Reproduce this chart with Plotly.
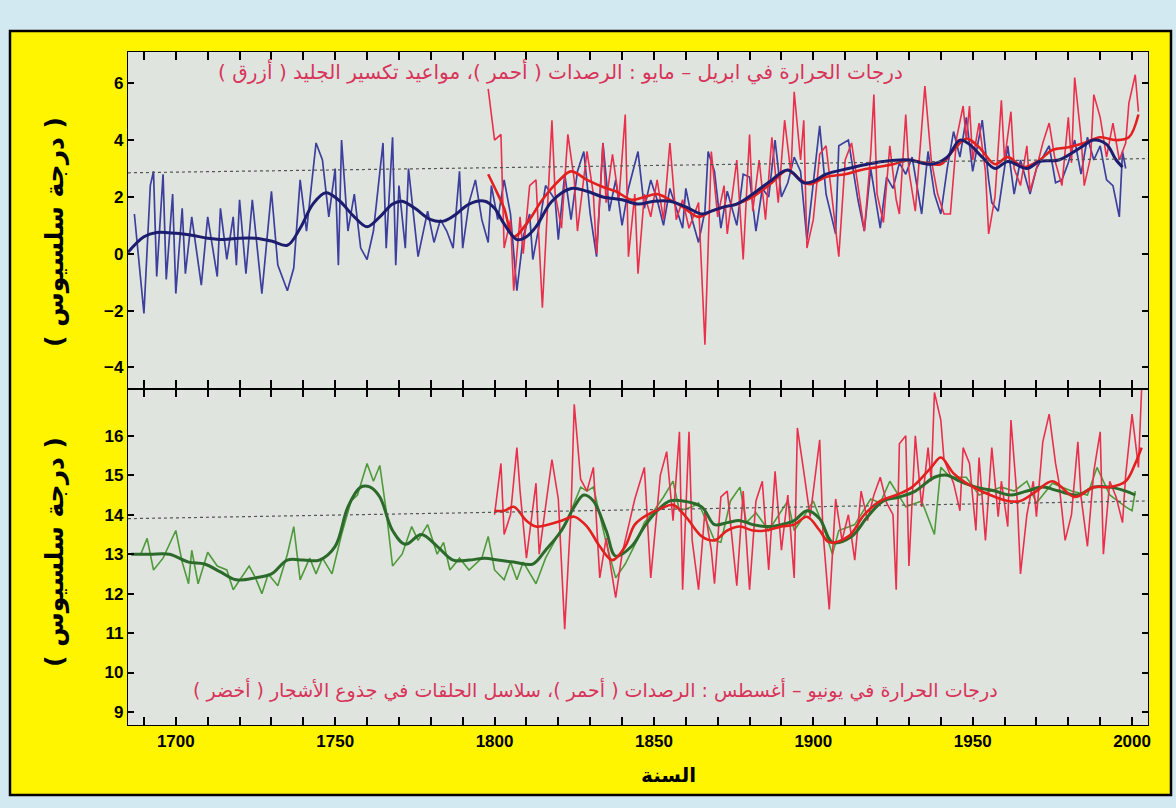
import plotly.graph_objects as go

# ---------------- DATA ----------------
# Top panel: April-May temperature (deg C)
blue_raw_years = [1687,1690,1692,1693,1694,1696,1697,1699,1700,1702,1703,1705,1708,1710,1713,1714,1716,1718,1719,1720,
                  1722,1724,1727,1730,1732,1735,1737,1739,1741,1744,1746,1748,1750,1751,1752,1754,1756,1758,1760,1762,
                  1765,1766,1768,1769,1770,1772,1773,1775,1776,1779,1781,1783,1785,1787,1789,1790,1792,1794,1796,1798,
                  1799,1801,1803,1805,1807,1809,1811,1812,1814,1816,1819,1820,1822,1824,1826,1828,1830,1832,1834,1836,
                  1838,1840,1842,1845,1847,1849,1851,1853,1855,1857,1859,1860,1862,1864,1866,1867,1869,1871,1873,1876,
                  1878,1880,1882,1884,1886,1888,1890,1892,1894,1896,1898,1902,1904,1907,1908,1911,1914,1916,1918,1921,
                  1923,1925,1927,1929,1931,1934,1936,1938,1940,1942,1944,1946,1948,1950,1953,1955,1956,1958,1961,1963,
                  1965,1967,1968,1970,1971,1974,1976,1978,1980,1982,1984,1986,1988,1990,1992,1994,1996,1997,1998]
blue_raw_vals = [1.4,-2.1,2.4,2.9,-0.8,2.8,-0.9,2.1,-1.4,1.6,-0.7,1.3,-1.1,1.3,-0.8,1.6,-0.2,1.3,-0.4,1.9,
                 -0.7,1.9,-1.4,2.2,-0.4,-1.3,-0.5,2.6,0.8,3.9,3.3,1.3,3.0,-0.4,4.0,0.8,2.1,0.2,-0.2,0.8,
                 3.9,0.2,4.1,-0.4,2.4,0.2,3.0,0.8,-0.1,1.5,0.4,1.2,0.8,0.2,2.9,0.2,1.8,2.6,1.2,0.4,
                 2.4,1.2,2.6,1.4,-1.3,0.6,1.4,-0.2,1.0,2.4,1.9,0.5,2.8,1.2,2.9,3.6,1.4,-0.1,3.9,1.5,
                 2.6,1.0,2.3,3.6,1.6,2.6,1.9,1.0,2.3,1.6,0.9,2.3,1.2,0.4,1.5,3.6,2.9,0.9,2.2,1.0,
                 2.8,2.7,0.8,2.3,2.0,4.0,2.0,2.5,3.4,2.9,0.5,4.5,2.1,0.7,3.8,4.0,1.9,0.8,3.0,0.9,
                 2.7,2.3,3.2,2.8,3.4,1.4,3.6,2.1,1.4,3.0,4.3,3.4,4.8,2.9,4.7,2.6,1.8,1.5,3.8,2.1,
                 3.3,2.5,2.1,3.0,3.2,3.8,2.5,2.6,3.2,4.0,2.8,4.1,3.3,3.8,2.6,2.4,1.3,3.6,3.0]

blue_smooth_years = [1685,1690,1694,1700,1705,1710,1715,1720,1725,1730,1735,1739,1743,1747,1751,1756,1760,1764,1768,1771,
                     1775,1780,1784,1788,1792,1797,1800,1803,1807,1810,1813,1818,1824,1829,1834,1840,1845,1850,1855,1860,
                     1865,1868,1872,1876,1881,1887,1892,1897,1900,1904,1911,1917,1922,1930,1937,1942,1946,1949,1953,1957,
                     1961,1967,1971,1977,1984,1988,1992,1995,1997]
blue_smooth_vals = [0.05,0.6,0.75,0.72,0.65,0.55,0.5,0.55,0.55,0.45,0.3,0.9,1.75,2.15,1.9,1.3,0.95,1.3,1.75,1.85,
                    1.6,1.2,1.15,1.4,1.75,1.85,1.6,1.05,0.5,0.6,0.95,1.85,2.3,2.2,2.0,1.9,1.75,1.85,1.85,1.65,
                    1.4,1.5,1.65,1.75,2.1,2.6,2.95,2.5,2.55,2.8,3.0,3.15,3.25,3.3,3.15,3.4,4.0,3.85,3.4,3.0,
                    3.25,3.0,3.25,3.3,3.75,4.0,3.85,3.3,3.05]

red_top_years = [1798,1800,1802,1803,1805,1806,1808,1809,1811,1813,1815,1818,1819,1821,1823,1825,1826,1829,1831,1832,
                 1834,1835,1837,1839,1841,1842,1844,1845,1847,1849,1851,1853,1855,1857,1859,1861,1864,1866,1868,1870,
                 1872,1873,1876,1878,1880,1881,1883,1885,1887,1889,1891,1893,1894,1896,1897,1898,1900,1902,1904,1906,
                 1908,1910,1912,1914,1916,1918,1919,1920,1922,1924,1926,1927,1929,1930,1932,1935,1937,1939,1941,1943,
                 1945,1947,1948,1949,1950,1952,1954,1955,1957,1959,1960,1962,1963,1965,1967,1968,1970,1972,1974,1976,
                 1978,1980,1981,1982,1984,1985,1987,1988,1990,1992,1994,1996,1998,1999,2001,2002]
red_top_vals = [5.8,4.0,4.2,0.2,1.2,-1.3,1.3,0.0,2.4,2.6,-1.9,4.7,2.1,0.9,4.2,2.6,0.8,3.6,2.1,0.0,
                3.9,1.8,3.5,1.9,4.9,-0.1,2.1,-0.7,2.1,1.3,2.6,1.2,3.9,1.2,1.9,0.9,1.8,-3.2,3.6,1.3,
                2.4,0.7,3.3,-0.2,4.2,1.5,3.3,1.2,4.1,1.8,4.7,2.8,5.7,3.3,4.7,0.2,1.2,3.5,3.8,1.8,
                -0.1,3.3,3.9,2.4,0.8,3.5,5.6,2.1,1.1,3.8,1.9,1.4,4.9,2.9,1.5,5.9,3.3,2.1,1.4,1.4,
                4.1,5.2,4.0,5.2,3.3,4.6,2.9,0.7,2.0,5.4,3.3,5.0,3.0,2.4,3.8,2.2,3.0,3.9,4.6,3.2,
                2.4,4.8,3.2,6.2,4.1,2.4,3.4,5.6,4.8,3.4,4.6,3.3,3.9,5.3,6.3,5.0]

red_top_smooth_years = [1798,1801,1803,1806,1810,1815,1820,1824,1829,1834,1838,1843,1847,1851,1855,1859,1864,1868,1872,1876,
                        1881,1887,1892,1896,1899,1904,1910,1915,1920,1925,1930,1935,1940,1944,1948,1952,1957,1961,1966,1971,
                        1975,1980,1985,1990,1995,1999,2002]
red_top_smooth_vals = [2.8,2.1,1.6,0.6,1.05,1.9,2.55,2.9,2.6,2.35,2.2,1.9,2.0,2.1,1.9,1.65,1.3,1.5,1.65,1.75,
                       2.0,2.5,2.95,2.6,2.45,2.7,2.8,2.95,3.05,3.15,3.3,3.2,3.15,3.65,4.05,3.75,3.15,3.4,3.05,3.3,
                       3.65,3.75,3.9,4.1,4.0,4.1,4.9]

# Bottom panel: June-August temperature (deg C)
green_raw_years = [1689,1691,1693,1696,1700,1702,1704,1705,1707,1710,1713,1716,1718,1720,1723,1725,1727,1729,1732,1735,
                   1737,1739,1742,1744,1746,1749,1752,1755,1757,1760,1762,1764,1766,1768,1771,1774,1776,1779,1782,1784,
                   1786,1789,1792,1796,1798,1800,1803,1805,1807,1809,1813,1816,1820,1823,1827,1829,1831,1833,1835,1838,
                   1841,1845,1847,1850,1853,1856,1858,1862,1864,1869,1871,1874,1877,1879,1882,1886,1892,1894,1897,1900,
                   1904,1906,1908,1913,1918,1921,1924,1929,1934,1938,1940,1943,1948,1952,1959,1963,1967,1970,1975,1981,
                   1986,1989,1993,1998,2000,2001]
green_raw_vals = [13.0,13.4,12.6,12.9,13.6,12.8,12.25,13.1,12.25,13.05,12.7,12.6,12.1,12.35,12.7,12.4,12.0,12.5,12.2,13.0,
                  13.7,12.35,12.9,12.5,12.9,12.5,13.5,14.35,14.5,15.3,14.85,15.25,14.1,12.7,13.0,13.7,13.35,13.75,13.0,13.3,
                  12.6,12.9,12.6,12.9,13.45,12.6,12.35,12.8,12.35,12.8,12.25,12.9,13.5,13.9,14.7,14.6,14.7,14.0,13.3,12.4,
                  12.75,13.4,13.8,14.1,14.45,14.85,14.1,14.2,14.3,13.35,13.3,14.35,14.7,13.8,14.05,13.6,14.35,13.6,13.95,14.35,
                  13.5,13.0,13.6,13.75,14.4,14.3,14.85,14.2,14.35,13.5,15.2,14.95,14.95,14.5,14.7,14.6,14.85,14.3,14.8,14.6,
                  14.5,15.2,14.5,14.2,14.1,14.6]

green_smooth_years = [1686,1692,1698,1704,1709,1714,1719,1725,1730,1735,1740,1745,1750,1754,1758,1761,1764,1768,1772,1777,
                      1782,1787,1792,1797,1801,1806,1812,1816,1821,1825,1828,1831,1835,1838,1843,1847,1851,1855,1859,1865,
                      1869,1873,1877,1881,1886,1890,1894,1898,1902,1906,1912,1917,1922,1927,1932,1938,1942,1946,1951,1957,
                      1962,1967,1972,1977,1983,1988,1993,1998,2001]
green_smooth_vals = [13.0,13.0,13.0,12.8,12.75,12.55,12.35,12.4,12.5,12.85,12.85,12.85,13.2,14.2,14.7,14.7,14.45,13.6,13.25,13.5,
                     13.2,12.85,12.85,12.9,12.85,12.8,12.75,13.1,13.6,14.2,14.5,14.35,13.6,12.95,13.2,13.7,14.1,14.35,14.35,14.2,
                     13.75,13.8,13.85,13.75,13.7,13.75,13.85,14.1,13.9,13.3,13.45,13.95,14.35,14.45,14.6,14.95,15.0,14.85,14.7,14.6,
                     14.5,14.6,14.7,14.6,14.5,14.7,14.7,14.6,14.5]

red_bot_years = [1800,1802,1803,1805,1807,1808,1810,1813,1814,1818,1820,1822,1824,1825,1827,1829,1831,1833,1835,1838,
                 1840,1844,1847,1849,1852,1854,1856,1858,1859,1861,1862,1864,1866,1868,1869,1871,1873,1876,1878,1880,
                 1882,1884,1886,1888,1890,1892,1894,1895,1897,1899,1902,1903,1905,1907,1909,1911,1913,1915,1917,1919,
                 1921,1923,1925,1926,1927,1929,1930,1932,1934,1936,1937,1938,1940,1941,1944,1946,1947,1949,1951,1952,
                 1954,1956,1958,1959,1961,1962,1964,1965,1967,1969,1970,1972,1974,1976,1977,1979,1981,1983,1984,1986,
                 1988,1990,1991,1993,1995,1997,1998,2000,2002,2003]
red_bot_vals = [14.0,15.3,13.5,14.0,15.7,14.6,12.9,14.8,13.0,15.4,14.4,11.1,14.1,16.8,14.9,14.6,15.2,12.4,13.4,11.9,
                13.0,14.4,15.2,12.4,15.0,15.6,13.85,16.1,12.1,16.1,13.35,12.1,14.1,13.1,12.25,14.45,14.6,12.2,14.6,12.1,
                14.35,14.85,12.6,15.1,13.1,14.5,12.4,16.2,15.1,13.95,15.9,13.6,11.6,14.4,13.35,14.0,12.85,14.6,13.85,14.5,
                14.95,14.3,14.0,12.1,15.8,16.0,12.7,16.0,14.2,15.7,14.85,17.1,16.4,15.4,14.8,14.1,15.7,15.3,13.6,15.45,
                13.35,15.7,13.95,14.85,13.7,16.4,14.35,12.5,14.0,14.85,13.95,15.85,16.55,15.3,14.85,13.35,14.0,15.85,14.45,13.2,
                15.1,16.1,13.0,14.85,14.45,13.8,15.0,16.55,15.2,17.2]

red_bot_smooth_years = [1800,1803,1806,1810,1813,1817,1821,1825,1829,1833,1837,1841,1844,1848,1852,1856,1860,1865,1869,1873,
                        1877,1881,1885,1890,1894,1898,1902,1905,1911,1916,1921,1926,1931,1937,1940,1944,1948,1954,1961,1965,
                        1970,1975,1982,1988,1993,1998,2001,2003]
red_bot_smooth_vals = [14.1,14.1,14.2,13.85,13.7,13.75,13.85,13.95,13.7,13.2,12.85,13.2,13.75,14.0,14.15,14.25,13.95,13.45,13.35,13.6,
                       13.7,13.6,13.6,13.7,13.75,13.95,13.6,13.3,13.45,14.0,14.35,14.5,14.7,15.2,15.45,15.05,14.8,14.55,14.35,14.35,
                       14.6,14.85,14.45,14.7,14.7,14.85,15.3,15.7]

# dotted reference lines (as drawn, slightly tilted in the scan)
top_ref_years = [1685, 2005]
top_ref_vals = [2.85, 3.35]
bot_ref_years = [1685, 2005]
bot_ref_vals = [13.9, 14.35]

x_tick_vals = [1690, 1700, 1710, 1720, 1730, 1740, 1750, 1760, 1770, 1780, 1790, 1800, 1810, 1820, 1830, 1840,
               1850, 1860, 1870, 1880, 1890, 1900, 1910, 1920, 1930, 1940, 1950, 1960, 1970, 1980, 1990, 2000]
x_tick_text = ["", "1700", "", "", "", "", "1750", "", "", "", "", "1800", "", "", "", "",
               "1850", "", "", "", "", "1900", "", "", "", "", "1950", "", "", "", "", "2000"]
top_y_ticks = [-4, -2, 0, 2, 4, 6]
bot_y_ticks = [9, 10, 11, 12, 13, 14, 15, 16]

top_note = "درجات الحرارة في ابريل – مايو : الرصدات ( أحمر )، مواعيد تكسير الجليد ( أزرق )"
bot_note = "درجات الحرارة في يونيو – أغسطس : الرصدات ( أحمر )، سلاسل الحلقات في جذوع الأشجار ( أخضر )"
y_title = "( درجة سلسيوس )"
x_title = "السنة"

# ---------------- STYLE ----------------
W, H = 1176, 808
L, R, T, B = 128, 28, 52, 83
PW, PH = W - L - R, H - T - B

def px_x(p):
    return (p - L) / PW

def px_y(p):
    return (H - B - p) / PH

BLUE_RAW = "#3d3f9c"
BLUE_SM = "#1c1d6e"
RED_RAW = "#ea2f4c"
RED_SM = "#e3201f"
GREEN_RAW = "#4f9a3a"
GREEN_SM = "#2b6a2a"

fig = go.Figure()

# top panel (xaxis2 / yaxis2)
fig.add_trace(go.Scatter(x=blue_raw_years, y=blue_raw_vals, mode="lines",
                         line=dict(color=BLUE_RAW, width=1.7), xaxis="x2", yaxis="y2"))
fig.add_trace(go.Scatter(x=red_top_years, y=red_top_vals, mode="lines",
                         line=dict(color=RED_RAW, width=1.6), xaxis="x2", yaxis="y2"))
fig.add_trace(go.Scatter(x=red_top_smooth_years, y=red_top_smooth_vals, mode="lines", line_shape="spline",
                         line=dict(color=RED_SM, width=2.6), xaxis="x2", yaxis="y2"))
fig.add_trace(go.Scatter(x=blue_smooth_years, y=blue_smooth_vals, mode="lines", line_shape="spline",
                         line=dict(color=BLUE_SM, width=3), xaxis="x2", yaxis="y2"))
fig.add_trace(go.Scatter(x=top_ref_years, y=top_ref_vals, mode="lines",
                         line=dict(color="#555555", width=1.2, dash="dot"), xaxis="x2", yaxis="y2"))

# bottom panel (xaxis / yaxis)
fig.add_trace(go.Scatter(x=green_raw_years, y=green_raw_vals, mode="lines",
                         line=dict(color=GREEN_RAW, width=1.6), xaxis="x", yaxis="y"))
fig.add_trace(go.Scatter(x=red_bot_years, y=red_bot_vals, mode="lines",
                         line=dict(color=RED_RAW, width=1.6), xaxis="x", yaxis="y"))
fig.add_trace(go.Scatter(x=green_smooth_years, y=green_smooth_vals, mode="lines", line_shape="spline",
                         line=dict(color=GREEN_SM, width=3), xaxis="x", yaxis="y"))
fig.add_trace(go.Scatter(x=red_bot_smooth_years, y=red_bot_smooth_vals, mode="lines", line_shape="spline",
                         line=dict(color=RED_SM, width=2.6), xaxis="x", yaxis="y"))
fig.add_trace(go.Scatter(x=bot_ref_years, y=bot_ref_vals, mode="lines",
                         line=dict(color="#555555", width=1.2, dash="dot"), xaxis="x", yaxis="y"))

tickfont = dict(family="Liberation Sans", size=17, color="black", weight="bold")
XR = [1685, 2005]

common_x = dict(range=XR, showline=True, linecolor="black", linewidth=1.3, mirror="ticks",
                ticks="inside", ticklen=8, tickwidth=1.5, tickcolor="black", showgrid=False, zeroline=False,
                tickvals=x_tick_vals, ticktext=x_tick_text)

fig.update_layout(
    width=W, height=H,
    margin=dict(l=L, r=R, t=T, b=B, pad=0),
    paper_bgcolor="#d3e9f1",
    plot_bgcolor="rgba(0,0,0,0)",
    showlegend=False,
    xaxis=dict(**common_x, anchor="y", showticklabels=True, tickfont=tickfont),
    xaxis2=dict(**common_x, anchor="y2", matches="x", showticklabels=False),
    yaxis=dict(domain=[0, 0.5], range=[8.67, 17.2], tickvals=bot_y_ticks, showline=True, linecolor="black",
               linewidth=1.3, mirror="ticks", ticks="inside", ticklen=6, tickwidth=1.5, tickcolor="black",
               showgrid=False, zeroline=False, tickfont=tickfont, anchor="x"),
    yaxis2=dict(domain=[0.5, 1], range=[-4.74, 7.1], tickvals=top_y_ticks, showline=True, linecolor="black",
                linewidth=1.3, mirror="ticks", ticks="inside", ticklen=6, tickwidth=1.5, tickcolor="black",
                showgrid=False, zeroline=False, tickfont=tickfont, anchor="x2"),
    shapes=[
        # yellow frame
        dict(type="rect", xref="paper", yref="paper", x0=px_x(10), x1=px_x(1171), y0=px_y(795), y1=px_y(31),
             fillcolor="#fff500", line=dict(color="black", width=2.5), layer="below"),
        # plot area background
        dict(type="rect", xref="paper", yref="paper", x0=0, x1=1, y0=0, y1=1,
             fillcolor="#dfe4df", line=dict(width=0), layer="below"),
    ],
    annotations=[
        dict(text=top_note, xref="paper", yref="paper", x=px_x(905), y=px_y(72), xanchor="right", yanchor="middle",
             showarrow=False, font=dict(family="DejaVu Sans", size=20, color="#d8345a")),
        dict(text=bot_note, xref="paper", yref="paper", x=px_x(1000), y=px_y(690), xanchor="right", yanchor="middle",
             showarrow=False, font=dict(family="DejaVu Sans", size=19, color="#d8345a")),
        dict(text=y_title, xref="paper", yref="paper", x=px_x(55), y=px_y(232), xanchor="center", yanchor="middle",
             textangle=-90, showarrow=False, font=dict(family="DejaVu Sans", size=25, color="black", weight="bold")),
        dict(text=y_title, xref="paper", yref="paper", x=px_x(55), y=px_y(552), xanchor="center", yanchor="middle",
             textangle=-90, showarrow=False, font=dict(family="DejaVu Sans", size=25, color="black", weight="bold")),
        dict(text=x_title, xref="paper", yref="paper", x=px_x(668), y=px_y(775), xanchor="center", yanchor="middle",
             showarrow=False, font=dict(family="DejaVu Sans", size=20, color="black", weight="bold")),
    ],
)

fig.write_html("out.html")
